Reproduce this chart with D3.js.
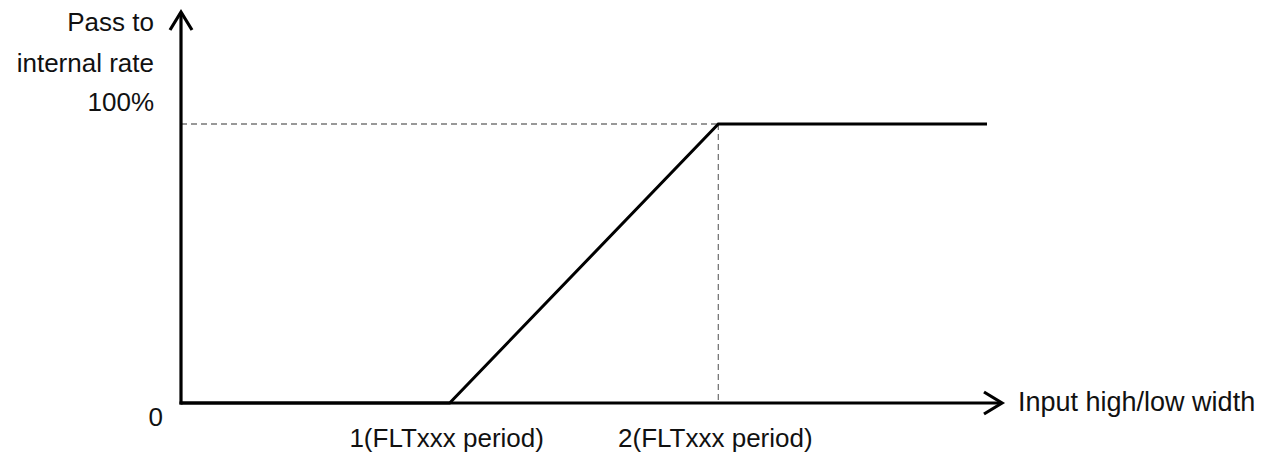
<!DOCTYPE html>
<html><head><meta charset="utf-8">
<script src="https://cdn.jsdelivr.net/npm/d3@7"></script>
<style>body{margin:0;background:#fff}svg text{font-family:"Liberation Sans",Arial,sans-serif;font-size:26px;fill:#111}</style>
</head><body>
<svg id="c" width="1271" height="455"></svg>
<script>
const widthValues = [0, 1, 2, 3];
const passRate = [0, 0, 1, 1];
const xTickLabels = ["1(FLTxxx period)", "2(FLTxxx period)"];
const xTickValues = [1, 2];
const yTickLabels = ["0", "100%"];
const yTitle = ["Pass to", "internal rate"];
const xTitle = "Input high/low width";

const svg = d3.select("#c");
const x = d3.scaleLinear().domain([0, 3]).range([181, 987]);
const y = d3.scaleLinear().domain([0, 1]).range([403, 124]);

// dashed guides
const g = svg.append("g").attr("stroke", "#777").attr("stroke-width", 1.3).attr("stroke-dasharray", "6,4").attr("fill", "none");
g.append("line").attr("x1", x(0)).attr("x2", x(2)).attr("y1", y(1)).attr("y2", y(1));
g.append("line").attr("x1", x(2)).attr("x2", x(2)).attr("y1", y(1)).attr("y2", y(0));

// data line
const pts = widthValues.map((d, i) => [d, passRate[i]]);
svg.append("path").datum(pts)
  .attr("d", d3.line().x(d => x(d[0])).y(d => y(d[1])))
  .attr("fill", "none").attr("stroke", "#000").attr("stroke-width", 3);

// axes
const ax = svg.append("g").attr("stroke", "#000").attr("stroke-width", 3.2).attr("fill", "none").attr("stroke-linecap", "butt");
ax.append("path").attr("d", `M${x(0)},${y(0)+1.5}V12`);
ax.append("path").attr("d", `M${x(0)-11},30L${x(0)},12L${x(0)+11},30`);
ax.append("path").attr("d", `M${x(0)-1.5},${y(0)}H1001`);
ax.append("path").attr("d", `M984,${y(0)-11}L1002,${y(0)}L984,${y(0)+11}`);

// tick labels
svg.selectAll(".xt").data(xTickValues).enter().append("text")
  .attr("x", d => x(d) - 3).attr("y", 447).attr("text-anchor", "middle")
  .text((d, i) => xTickLabels[i]);
svg.append("text").attr("x", 163).attr("y", 426).attr("text-anchor", "end").text(yTickLabels[0]);
svg.append("text").attr("x", 154).attr("y", 111).attr("text-anchor", "end").text(yTickLabels[1]);
yTitle.forEach((t, i) => svg.append("text").attr("x", 154).attr("y", 31 + i * 41).attr("text-anchor", "end").text(t));
svg.append("text").attr("x", 1018).attr("y", 411).style("font-size", "27px").text(xTitle);
</script>
</body></html>
